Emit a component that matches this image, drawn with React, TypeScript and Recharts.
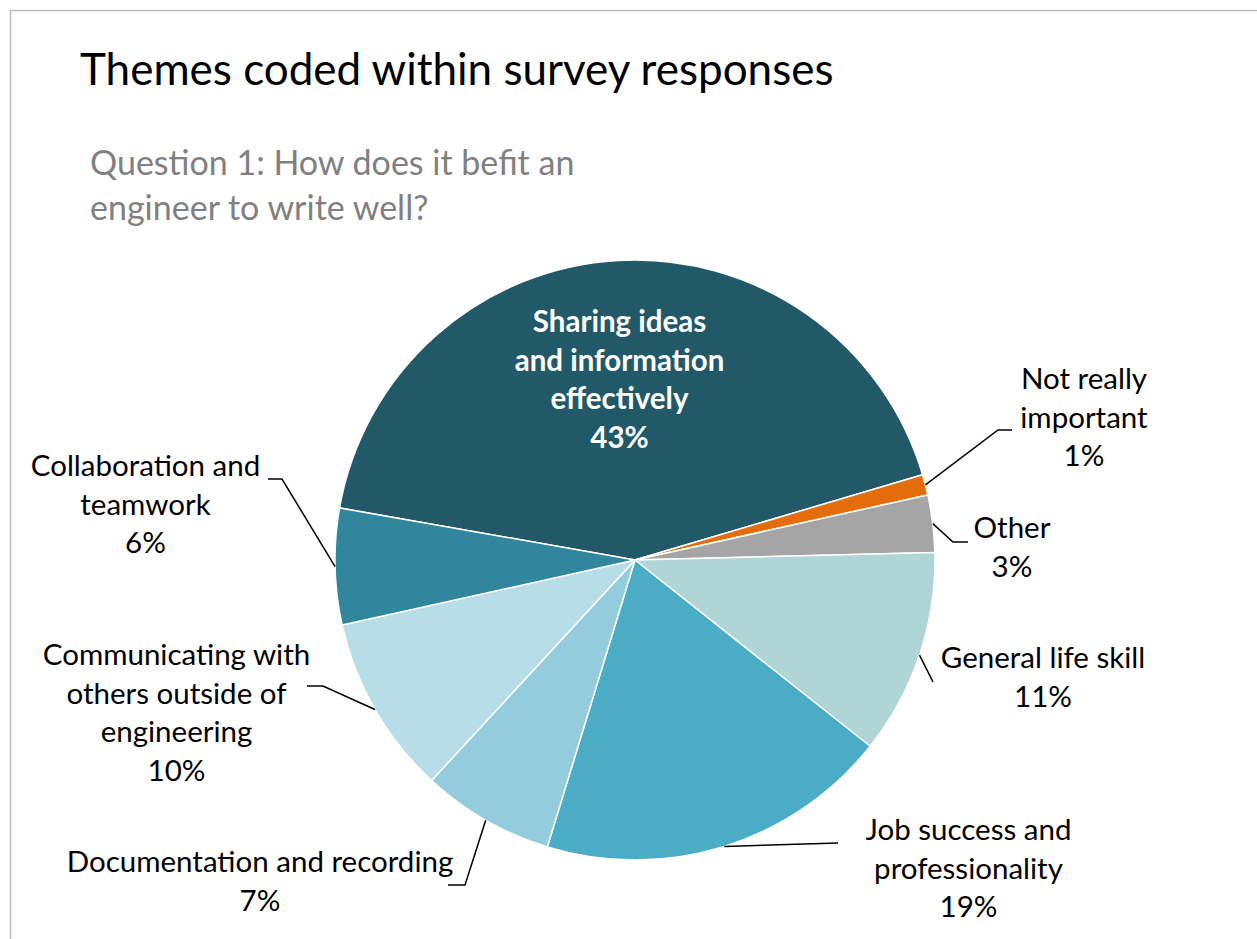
import React from "react";
import { PieChart, Pie, Cell } from "recharts";

const categories = [
  "Sharing ideas and information effectively",
  "Not really important",
  "Other",
  "General life skill",
  "Job success and professionality",
  "Documentation and recording",
  "Communicating with others outside of engineering",
  "Collaboration and teamwork",
];
const shares = [42.64, 1.11, 3.08, 11.06, 19.06, 7.14, 9.67, 6.25];
const labelLines = [
  ["Sharing ideas", "and information", "effectively"],
  ["Not really", "important"],
  ["Other"],
  ["General life skill"],
  ["Job success and", "professionality"],
  ["Documentation and recording"],
  ["Communicating with", "others outside of", "engineering"],
  ["Collaboration and", "teamwork"],
];
const colors = ["#225968", "#E46C0A", "#A5A5A5", "#B0D5D6", "#4BACC6", "#93CDDD", "#B7DEE8", "#31859C"];

const title = "Themes coded within survey responses";
const subtitleLines = ["Question 1: How does it befit an", "engineer to write well?"];

// label placement relative to pie center: text center x, first baseline y, leader elbow and end
const labelLayout = [
  { tx: -15.5, ty: -228, elbow: null, end: null },
  { tx: 449, ty: -171, elbow: [363, -130], end: [377, -130] },
  { tx: 377, ty: -22, elbow: [318, -18], end: [333, -18] },
  { tx: 408, ty: 108, elbow: null, end: [298, 122] },
  { tx: 333.5, ty: 280, elbow: null, end: [203, 283] },
  { tx: -375, ty: 312, elbow: [-170, 325], end: [-187, 325] },
  { tx: -458.5, ty: 105, elbow: [-312, 126], end: [-328, 126] },
  { tx: -489.5, ty: -84, elbow: [-353, -81], end: [-367, -81] },
];

const data = categories.map((c, i) => ({ name: c, value: shares[i] }));

const FONT = "Lato, 'Open Sans', sans-serif";
const LINE_H = 38.5;
const RAD = Math.PI / 180;

const renderLabel = (props: any) => {
  const { cx, cy, midAngle, outerRadius, percent, index } = props;
  const lay = labelLayout[index];
  const lines = [...labelLines[index], `${Math.round(percent * 100)}%`];
  const inside = index === 0;
  const ex = cx + outerRadius * Math.cos(-midAngle * RAD);
  const ey = cy + outerRadius * Math.sin(-midAngle * RAD);
  let path = "";
  if (lay.end) {
    path = `M${ex},${ey}`;
    if (lay.elbow) path += ` L${cx + lay.elbow[0]},${cy + lay.elbow[1]}`;
    path += ` L${cx + lay.end[0]},${cy + lay.end[1]}`;
  }
  return (
    <g key={`lbl-${index}`}>
      {path && <path d={path} stroke="#000" strokeWidth={1.5} fill="none" />}
      <text
        x={cx + lay.tx}
        y={cy + lay.ty}
        textAnchor="middle"
        fontFamily={FONT}
        fontSize={29.5}
        fontWeight={inside ? 700 : 400}
        fill={inside ? "#FFFFFF" : "#000000"}
      >
        {lines.map((l, j) => (
          <tspan key={j} x={cx + lay.tx} dy={j === 0 ? 0 : LINE_H}>
            {l}
          </tspan>
        ))}
      </text>
    </g>
  );
};

export default function App() {
  return (
    <div style={{ position: "absolute", left: 0, top: 0, width: 1257, height: 939, background: "#fff", overflow: "hidden" }}>
      <svg width={1257} height={939} style={{ position: "absolute", left: 0, top: 0 }}>
        <path d="M10.5,939 L10.5,10.5 L1257,10.5" stroke="#BBBBBB" strokeWidth={1.5} fill="none" />
        <text x={80} y={85} fontFamily={FONT} fontSize={44} fill="#000">{title}</text>
        {subtitleLines.map((s, i) => (
          <text key={i} x={90} y={175 + i * 45} fontFamily={FONT} fontSize={34} fill="#808080">{s}</text>
        ))}
      </svg>
      <div style={{ position: "absolute", left: 0, top: 0 }}>
        <PieChart width={1257} height={939} margin={{ top: 0, right: 0, bottom: 0, left: 0 }}>
          <Pie
            data={data}
            dataKey="value"
            nameKey="name"
            cx={635}
            cy={560}
            outerRadius={300}
            startAngle={170}
            endAngle={-190}
            stroke="#FFFFFF"
            strokeWidth={1.5}
            isAnimationActive={false}
            label={renderLabel}
            labelLine={false}
          >
            {data.map((d, i) => (
              <Cell key={d.name} fill={colors[i]} />
            ))}
          </Pie>
        </PieChart>
      </div>
    </div>
  );
}
